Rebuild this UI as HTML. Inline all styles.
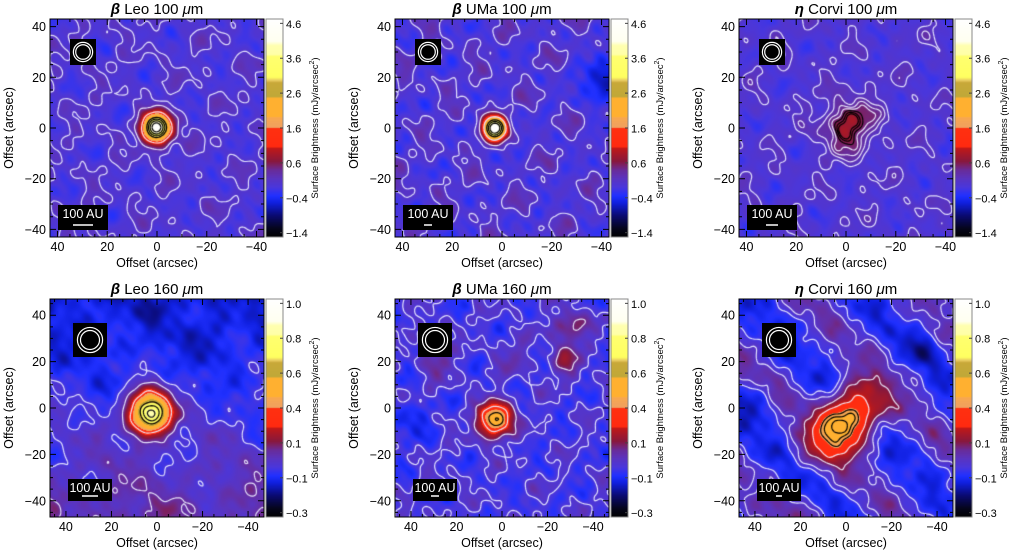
<!DOCTYPE html>
<html><head><meta charset="utf-8">
<style>
html,body{margin:0;padding:0;background:#fff;}
#wrap{position:relative;width:1009px;height:555px;overflow:hidden;font-family:"Liberation Sans",sans-serif;}
canvas{position:absolute;}
svg{position:absolute;left:0;top:0;}
</style></head>
<body>
<div id="wrap">
<svg id="ov" width="1009" height="555"></svg>
</div>
<script>
// ---- data ----
const panelTitles = ['Leo 100', 'UMa 100', 'Corvi 100', 'Leo 160', 'UMa 160', 'Corvi 160'];
const panelGreek = ['β','β','η','β','β','η'];
const sourceX = [0, 3, -1, 3, 3, 0];
const sourceY = [0, 0, 1, -2, -5, -6];
const sourceWidth = [3.8, 3.0, 7.0, 6.0, 4.8, 7.5];
const sourceElong = [1.0, 1.0, 1.1, 1.0, 1.1, 1.6];
const sourcePeak = [1.0, 1.0, 0.37, 0.9, 0.64, 0.64];
const backgroundLevel = [0.245, 0.245, 0.245, 0.22, 0.23, 0.225];
const backgroundNoise = [0.028, 0.035, 0.025, 0.025, 0.035, 0.025];
const backgroundTilt = [0.0, 0.0, 0.0, 0.0015, 0.0, 0.0];
const diagonalBands = [0.0, 0.0, 0.0, 0.02, 0.0, 0.06];
const whiteLevels = [[0.255,0.3,0.45],[0.255,0.32,0.5],[0.26,0.285,0.305,0.32],[0.23,0.3,0.45],[0.24,0.32,0.45],[0.22,0.26,0.34,0.42]];
const blackLevels = [[0.68,0.76,0.84,0.92],[0.68,0.78,0.88],[0.335,0.35,0.362],[0.7,0.78,0.85],[0.55,0.6],[0.52,0.56,0.6]];
const blobX = [[], [-40], [], [-25], [-30,-28,28,-5,40], [20,-35,40]];
const blobY = [[], [18], [], [28], [35,20,18,22,-5], [-45,25,0]];
const blobAmp = [[], [-0.15], [], [-0.04], [0.12,0.1,0.06,0.05,-0.08], [0.08,-0.06,-0.07]];
const axisTicks = [40, 20, 0, -20, -40];
const colorbarTicks100 = ['4.6','3.6','2.6','1.6','0.6','−0.4','−1.4'];
const colorbarTicks160 = ['1.0','0.8','0.6','0.4','0.1','−0.1','−0.3'];

const cmapStops = [[0,'#000000'],[0.04,'#05051a'],[0.1,'#0a0a70'],[0.16,'#1020e0'],[0.19,'#2030ff'],[0.23,'#4a36dc'],[0.27,'#5a34c0'],[0.31,'#6a2c98'],[0.35,'#88183c'],[0.41,'#c01818'],[0.415,'#ff2a10'],[0.5,'#ff3010'],[0.505,'#f0a060'],[0.55,'#f8a850'],[0.555,'#ffb030'],[0.64,'#ffb030'],[0.645,'#c0a838'],[0.71,'#c8a838'],[0.72,'#e8c860'],[0.735,'#ffff60'],[0.83,'#ffff70'],[0.84,'#ffffa8'],[0.88,'#ffffb0'],[0.9,'#fffff0'],[1,'#ffffff']];

// ---- layout ----
const colLeft = [50, 395, 739];
const rowTop = [19, 299];
const PW = 214, PH = 218;
const rowRange = [43, 47];
const svg = document.getElementById('ov');
const wrap = document.getElementById('wrap');
const NS = 'http://www.w3.org/2000/svg';
function hex(c){return [parseInt(c.substr(1,2),16),parseInt(c.substr(3,2),16),parseInt(c.substr(5,2),16)];}
const stopsRGB = cmapStops.map(s=>[s[0],hex(s[1])]);
function cmap(v){
  v=Math.max(0,Math.min(1,v));
  for(let i=1;i<stopsRGB.length;i++){
    if(v<=stopsRGB[i][0]){const a=stopsRGB[i-1],b=stopsRGB[i];const t=(v-a[0])/(b[0]-a[0]||1);
      return [0,1,2].map(k=>Math.round(a[1][k]+(b[1][k]-a[1][k])*t));}
  }
  return [255,255,255];
}
function field(p,x,y){
  let v=backgroundLevel[p];
  const n=backgroundNoise[p];
  v+=n*(0.45*Math.sin(0.23*x+0.17*y+p*1.3)+0.4*Math.sin(-0.19*x+0.29*y+p*2.1)+0.35*Math.sin(0.41*x-0.13*y+p*0.7)+0.3*Math.sin(0.11*x+0.47*y+p*3.3)
       +0.3*Math.sin(0.63*x+0.37*y+p*0.9)+0.25*Math.sin(-0.52*x+0.71*y+p*1.7)+0.2*Math.sin(0.83*x-0.58*y+p*2.9));
  v+=backgroundTilt[p]*(-y);
  v+=diagonalBands[p]*Math.sin((x-y)*0.12+p);
  for(let i=0;i<blobX[p].length;i++){
    const dx=x-blobX[p][i],dy=y-blobY[p][i];
    v+=blobAmp[p][i]*Math.exp(-(dx*dx+dy*dy)/(2*25));
  }
  const dx=x-sourceX[p],dy=y-sourceY[p];
  const c=Math.cos(Math.PI/4),s=Math.sin(Math.PI/4);
  const u=(dx*c-dy*s)/sourceElong[p],w=(dx*s+dy*c);
  const sw=sourceWidth[p];
  const pk=sourcePeak[p]-backgroundLevel[p];
  v+=pk*Math.exp(-(u*u+w*w)/(2*sw*sw));
  return v;
}
function el(tag,attrs,parent){const e=document.createElementNS(NS,tag);for(const k in attrs)e.setAttribute(k,attrs[k]);(parent||svg).appendChild(e);return e;}

for(let p=0;p<6;p++){
  const col=p%3,row=Math.floor(p/3);
  const L=colLeft[col],T=rowTop[row],R=rowRange[row];
  const sx=PW/(2*R),sy=PH/(2*R);
  const cx=L+PW/2,cy=T+PH/2;
  const X=a=>cx-a*sx, Y=a=>cy-a*sy;
  const cv=document.createElement('canvas');
  cv.width=PW;cv.height=PH;cv.style.left=L+'px';cv.style.top=T+'px';
  
  
  wrap.insertBefore(cv,svg);
  const ctx=cv.getContext('2d');
  const img=ctx.createImageData(PW,PH);
  for(let j=0;j<PH;j++)for(let i=0;i<PW;i++){
    const xa=(cx-(L+i+0.5))/sx, ya=(cy-(T+j+0.5))/sy;
    const c=cmap(field(p,xa,ya));const o=(j*PW+i)*4;
    img.data[o]=c[0];img.data[o+1]=c[1];img.data[o+2]=c[2];img.data[o+3]=255;
  }
  ctx.putImageData(img,0,0);
  const st=0.9, N=Math.ceil(2*R/st)+1;
  const g=[];for(let a=0;a<N;a++){g.push([]);for(let b=0;b<N;b++){g[a].push(field(p,-R+b*st,-R+a*st));}}
  function drawLevels(levels,color){
    ctx.strokeStyle=color;ctx.lineWidth=1.2;ctx.beginPath();
    levels.forEach(lv=>{
      for(let a=0;a<N-1;a++)for(let b=0;b<N-1;b++){
        const v0=g[a][b],v1=g[a][b+1],v2=g[a+1][b+1],v3=g[a+1][b];
        const pts=[];
        const ed=(va,vb,xa,ya,xb,yb)=>{if((va-lv)*(vb-lv)<0){const t=(lv-va)/(vb-va);pts.push([xa+(xb-xa)*t,ya+(yb-ya)*t]);}};
        const x0=-R+b*st,y0=-R+a*st,x1=x0+st,y1=y0+st;
        ed(v0,v1,x0,y0,x1,y0);ed(v1,v2,x1,y0,x1,y1);ed(v2,v3,x1,y1,x0,y1);ed(v3,v0,x0,y1,x0,y0);
        for(let k=0;k+1<pts.length;k+=2){
          ctx.moveTo(X(pts[k][0])-L,Y(pts[k][1])-T);ctx.lineTo(X(pts[k+1][0])-L,Y(pts[k+1][1])-T);
        }
      }
    });
    ctx.stroke();
  }
  drawLevels(whiteLevels[p],'rgba(235,235,255,0.95)');
  drawLevels(blackLevels[p],'#000');
  const cb=document.createElement('canvas');
  cb.width=17;cb.height=PH;cb.style.left=(L+PW+2)+'px';cb.style.top=T+'px';
  
  
  wrap.insertBefore(cb,svg);
  const cc=cb.getContext('2d');
  for(let j=0;j<PH;j++){const c=cmap(1-j/PH);cc.fillStyle='rgb('+c.join(',')+')';cc.fillRect(0,j,17,1);}
  const gp=el('g',{});
  
  
  const frame=el('rect',{x:L,y:T,width:PW,height:PH,fill:'none',stroke:'#000','stroke-width':1},gp);
  
  
  el('rect',{x:L+PW+2,y:T,width:17,height:PH,fill:'none',stroke:'#888','stroke-width':1},gp);
  let d='';
  for(let v=-45;v<=45;v+=5){
    if(Math.abs(v)>R)continue;
    const len=(v%20===0)?6:3;
    const xs=X(v),ys=Y(v);
    d+=`M${xs},${T+PH}v${-len}M${xs},${T}v${len}M${L},${ys}h${len}M${L+PW},${ys}h${-len}`;
  }
  el('path',{d:d,stroke:'#000','stroke-width':1,fill:'none'},gp);
  axisTicks.forEach(v=>{
    const tx=el('text',{x:X(v),y:T+PH+14,'font-size':12.5,'text-anchor':'middle'},gp);
    tx.textContent=(v<0?'−':'')+Math.abs(v);
    
    
    const ty=el('text',{x:L-4,y:Y(v)+4.5,'font-size':12.5,'text-anchor':'end'},gp);
    ty.textContent=(v<0?'−':'')+Math.abs(v);
    
    
  });
  const xl=el('text',{x:cx,y:T+PH+30,'font-size':12.5,'text-anchor':'middle'},gp);
  xl.textContent='Offset (arcsec)';
  
  
  const yl=el('text',{x:0,y:0,'font-size':12.5,'text-anchor':'middle',transform:`translate(${L-37},${cy}) rotate(-90)`},gp);
  yl.textContent='Offset (arcsec)';
  
  
  const ttl=el('text',{x:cx,y:T-5,'font-size':15,'text-anchor':'middle'},gp);
  
  
  const gk=el('tspan',{'font-weight':'bold','font-style':'italic'},ttl);gk.textContent=panelGreek[p]+' ';
  const t2=el('tspan',{},ttl);t2.textContent=panelTitles[p]+' ';
  const t3=el('tspan',{'font-style':'italic'},ttl);t3.textContent='μ';
  const t4=el('tspan',{},ttl);t4.textContent='m';
  const cbt=row===0?colorbarTicks100:colorbarTicks160;
  cbt.forEach((lab,i)=>{
    const yy=T+PH*(0.02+i*0.16);
    const t=el('text',{x:L+PW+22,y:yy+4.5,'font-size':11},gp);t.textContent=lab;
    
    
    el('path',{d:`M${L+PW+19},${yy}h-3`,stroke:'#444','stroke-width':1},gp);
  });
  const cl=el('text',{x:0,y:0,'font-size':9.5,'text-anchor':'middle',transform:`translate(${L+PW+54},${cy}) rotate(-90)`},gp);
  
  
  const c1=el('tspan',{},cl);c1.textContent='Surface Brightness (mJy/arcsec';
  const c2=el('tspan',{'font-size':7,dy:-4},cl);c2.textContent='2';
  const c3=el('tspan',{dy:4},cl);c3.textContent=')';
  const bx=L+(row===0?20:23),by=T+(row===0?20:24),bs=row===0?26:34;
  const beam=el('g',{},gp);
  
  
  el('rect',{x:bx,y:by,width:bs,height:bs,fill:'#000'},beam);
  el('circle',{cx:bx+bs/2,cy:by+bs/2,r:bs*0.37,fill:'none',stroke:'#fff','stroke-width':1.2},beam);
  el('circle',{cx:bx+bs/2,cy:by+bs/2,r:bs*0.28,fill:'none',stroke:'#fff','stroke-width':1.2},beam);
  const sbx=L+(row===0?8:18),sby=T+(row===0?186:180),sbw=row===0?50:44,sbh=row===0?25:22;
  const sb=el('g',{},gp);
  
  
  el('rect',{x:sbx,y:sby,width:sbw,height:sbh,fill:'#000'},sb);
  const st2=el('text',{x:sbx+sbw/2,y:sby+13,'font-size':12.5,fill:'#fff','text-anchor':'middle'},sb);st2.textContent='100 AU';
  const bl=[20,8,12,16,8,6][p];
  el('path',{d:`M${sbx+sbw/2-bl/2},${sby+sbh-5}h${bl}`,stroke:'#fff','stroke-width':1.5},sb);
}
</script>
</body></html>
